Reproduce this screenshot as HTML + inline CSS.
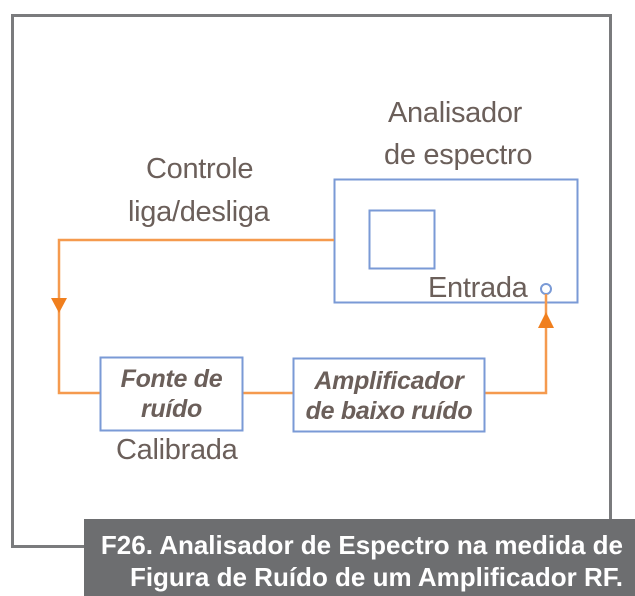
<!DOCTYPE html>
<html><head><meta charset="utf-8"><style>
html,body{margin:0;padding:0;background:#fff;}
body{width:635px;height:596px;position:relative;overflow:hidden;font-family:"Liberation Sans",sans-serif;}
.t{position:absolute;color:#6b5f5a;font-size:29px;line-height:30px;white-space:nowrap;letter-spacing:-0.3px;}
.cap{position:absolute;left:84px;top:519px;width:551px;height:77px;background:#6d6e70;}
.cap div{position:absolute;right:12px;color:#fff;font-weight:bold;font-size:26px;line-height:28px;white-space:nowrap;letter-spacing:0px;}
</style></head><body>
<svg width="635" height="596" style="position:absolute;left:0;top:0">
<rect x="12.5" y="15.5" width="598" height="531" fill="none" stroke="#7a7b7d" stroke-width="3"/>
<rect x="334.5" y="179.5" width="243" height="123" fill="none" stroke="#7a9ad6" stroke-width="2"/>
<rect x="369.5" y="210.5" width="65" height="58" fill="none" stroke="#7a9ad6" stroke-width="2"/>
<circle cx="546" cy="289" r="5" fill="none" stroke="#7a9ad6" stroke-width="2"/>
<g stroke="#f59a4e" stroke-width="2.5" fill="none">
<polyline points="334,240 59,240 59,393 100,393"/>
<line x1="243" y1="393" x2="293" y2="393"/>
<polyline points="485,393 546,393 546,294"/>
</g>
<polygon points="51,298 67,298 59,313" fill="#f07f1e"/>
<polygon points="538,328 554,328 546,312" fill="#f07f1e"/>
<rect x="100.5" y="357.5" width="142" height="73" fill="#fff" stroke="#7a9ad6" stroke-width="2"/>
<rect x="293.5" y="358.5" width="191" height="73" fill="#fff" stroke="#7a9ad6" stroke-width="2"/>
</svg>
<div class="t" style="left:388px;top:98px">Analisador</div>
<div class="t" style="left:384px;top:140px">de espectro</div>
<div class="t" style="left:146px;top:154px">Controle</div>
<div class="t" style="left:128px;top:197px">liga/desliga</div>
<div class="t" style="left:428px;top:273px">Entrada</div>
<div class="t" style="left:116px;top:435px">Calibrada</div>
<div class="t" style="left:100px;top:364px;width:143px;text-align:center;font-style:italic;font-weight:bold;font-size:25px;line-height:30px;letter-spacing:-0.3px">Fonte de<br>ruído</div>
<div class="t" style="left:293px;top:366px;width:192px;text-align:center;font-style:italic;font-weight:bold;font-size:25px;line-height:30px;letter-spacing:-0.3px">Amplificador<br>de baixo ruído</div>
<div class="cap"><div style="top:12px">F26. Analisador de Espectro na medida de</div><div style="top:44px">Figura de Ruído de um Amplificador RF.</div></div>
</body></html>
